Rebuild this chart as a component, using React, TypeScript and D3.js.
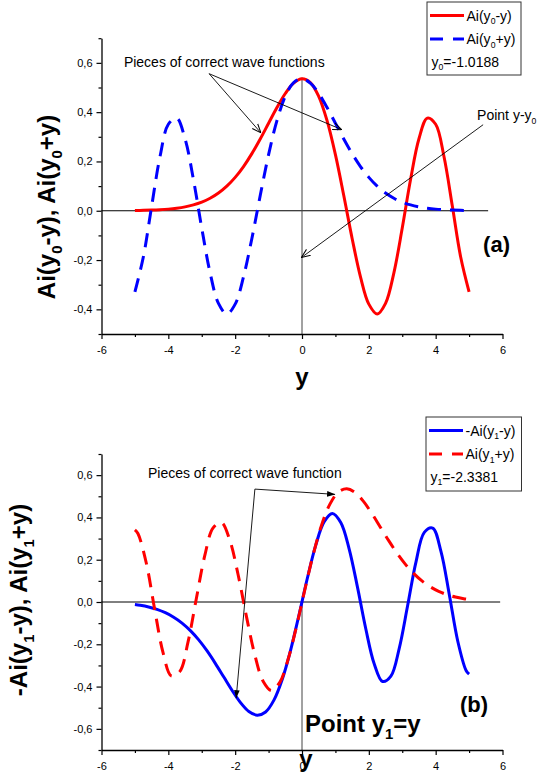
import React, { useEffect, useRef } from "react";
import * as d3 from "d3";

// ---------- data ----------
const xA = [-5, -4.75, -4.5, -4.25, -4, -3.75, -3.5, -3.25, -3, -2.75, -2.5, -2.25, -2, -1.75, -1.5, -1.25, -1, -0.75, -0.5, -0.25, 0, 0.25, 0.5, 0.75, 1, 1.25, 1.5, 1.75, 2, 2.25, 2.5, 2.75, 3, 3.25, 3.5, 3.75, 4, 4.25, 4.5, 4.75, 5];
const redA = [0.001, 0.0016, 0.0026, 0.0042, 0.0066, 0.0103, 0.0157, 0.0237, 0.0349, 0.0505, 0.0718, 0.0996, 0.1353, 0.1793, 0.2317, 0.2912, 0.355, 0.4187, 0.4757, 0.5178, 0.5356, 0.5201, 0.4642, 0.3655, 0.2274, 0.0616, -0.1123, -0.268, -0.3788, -0.4189, -0.3758, -0.2517, -0.0703, 0.1277, 0.2921, 0.3759, 0.3508, 0.2189, 0.0178, -0.1889, -0.3292];
const blueA = [-0.3292, -0.1889, 0.0178, 0.2189, 0.3508, 0.3759, 0.2921, 0.1277, -0.0703, -0.2517, -0.3758, -0.4189, -0.3788, -0.268, -0.1123, 0.0616, 0.2274, 0.3655, 0.4642, 0.5201, 0.5356, 0.5178, 0.4757, 0.4187, 0.355, 0.2912, 0.2317, 0.1793, 0.1353, 0.0996, 0.0718, 0.0505, 0.0349, 0.0237, 0.0157, 0.0103, 0.0066, 0.0042, 0.0026, 0.0016, 0.001];

const xRedB = [-5, -4.91, -4.66, -4.41, -4.16, -3.91, -3.66, -3.41, -3.16, -2.91, -2.66, -2.41, -2.16, -1.91, -1.66, -1.41, -1.16, -0.91, -0.66, -0.41, -0.16, 0.09, 0.34, 0.59, 0.84, 1.09, 1.34, 1.59, 1.84, 2.09, 2.34, 2.59, 2.84, 3.09, 3.34, 3.59, 3.84, 4.09, 4.34, 4.59, 4.84, 5];
const redB = [0.3408, 0.3237, 0.1843, -0.0334, -0.2381, -0.3496, -0.3292, -0.1889, 0.0178, 0.2189, 0.3508, 0.3759, 0.2921, 0.1277, -0.0703, -0.2517, -0.3758, -0.4189, -0.3788, -0.268, -0.1123, 0.0616, 0.2274, 0.3655, 0.4642, 0.5201, 0.5356, 0.5178, 0.4757, 0.4187, 0.355, 0.2912, 0.2317, 0.1793, 0.1353, 0.0996, 0.0718, 0.0505, 0.0349, 0.0237, 0.0157, 0.012];
const xBlueB = [-5, -4.84, -4.59, -4.34, -4.09, -3.84, -3.59, -3.34, -3.09, -2.84, -2.59, -2.34, -2.09, -1.84, -1.59, -1.34, -1.09, -0.84, -0.59, -0.34, -0.09, 0.16, 0.41, 0.66, 0.91, 1.16, 1.41, 1.66, 1.91, 2.16, 2.41, 2.66, 2.91, 3.16, 3.41, 3.66, 3.91, 4.16, 4.41, 4.66, 4.91, 5];
const blueB = [-0.012, -0.0157, -0.0237, -0.0349, -0.0505, -0.0718, -0.0996, -0.1353, -0.1793, -0.2317, -0.2912, -0.355, -0.4187, -0.4757, -0.5178, -0.5356, -0.5201, -0.4642, -0.3655, -0.2274, -0.0616, 0.1123, 0.268, 0.3788, 0.4189, 0.3758, 0.2517, 0.0703, -0.1277, -0.2921, -0.3759, -0.3508, -0.2189, -0.0178, 0.1889, 0.3292, 0.3496, 0.2381, 0.0334, -0.1843, -0.3237, -0.3408];

const xMajorTicks = [-6, -4, -2, 0, 2, 4, 6];
const xMinorTicks = [-5, -3, -1, 1, 3, 5];
const yMajorTicksA = [-0.4, -0.2, 0, 0.2, 0.4, 0.6];
const yMinorTicksA = [-0.5, -0.3, -0.1, 0.1, 0.3, 0.5, 0.7];
const yMajorTicksB = [-0.6, -0.4, -0.2, 0, 0.2, 0.4, 0.6];
const yMinorTicksB = [-0.7, -0.5, -0.3, -0.1, 0.1, 0.3, 0.5, 0.7];

const FONT = "'Liberation Sans', Arial, Helvetica, sans-serif";
const RED = "#ff0000";
const BLUE = "#0000ff";
const DASH = "14,9";

type Seg = string | { sub: string };

function addText(parent: any, x: number, y: number, segs: Seg[], size: number, opts: any = {}) {
  const t = parent
    .append("text")
    .attr("x", x)
    .attr("y", y)
    .attr("font-family", FONT)
    .attr("font-size", size)
    .attr("fill", "#000");
  if (opts.bold) t.attr("font-weight", "bold");
  if (opts.anchor) t.attr("text-anchor", opts.anchor);
  if (opts.transform) t.attr("transform", opts.transform);
  const subSize = size * 0.62;
  const drop = size * 0.28;
  let shifted = false;
  segs.forEach((s) => {
    const isSub = typeof s !== "string";
    const ts = t.append("tspan").text(isSub ? (s as any).sub : (s as string));
    if (isSub) {
      ts.attr("font-size", subSize).attr("dy", drop);
      shifted = true;
    } else if (shifted) {
      ts.attr("dy", -drop);
      shifted = false;
    }
  });
  return t;
}

function fmtY(d: any) {
  return (+d).toFixed(1).replace(".", ",");
}

function drawAxes(svg: any, x: any, y: any, yMajor: number[], yMinor: number[]) {
  const bottom = y.range()[0];
  const left = x.range()[0];
  const style = (g: any) => {
    g.attr("font-family", FONT).attr("font-size", 11);
    g.selectAll("path").attr("stroke-width", 1.3);
    g.selectAll("line").attr("stroke-width", 1.2);
  };
  svg
    .append("g")
    .attr("transform", `translate(0,${bottom})`)
    .call(d3.axisBottom(x).tickValues(xMajorTicks).tickSize(5).tickSizeOuter(0).tickPadding(7).tickFormat((d: any) => String(d)))
    .call(style);
  svg
    .append("g")
    .attr("transform", `translate(0,${bottom})`)
    .call(d3.axisBottom(x).tickValues(xMinorTicks).tickSize(3).tickSizeOuter(0).tickFormat(() => ""))
    .call(style)
    .call((g: any) => g.select(".domain").remove());
  svg
    .append("g")
    .attr("transform", `translate(${left},0)`)
    .call(d3.axisLeft(y).tickValues(yMajor).tickSize(5).tickSizeOuter(0).tickPadding(4).tickFormat(fmtY))
    .call(style);
  svg
    .append("g")
    .attr("transform", `translate(${left},0)`)
    .call(d3.axisLeft(y).tickValues(yMinor).tickSize(3).tickSizeOuter(0).tickFormat(() => ""))
    .call(style)
    .call((g: any) => g.select(".domain").remove());
}

function drawSeries(svg: any, x: any, y: any, xs: number[], ys: number[], color: string, dash: string | null) {
  const line = d3
    .line<number>()
    .x((_, i) => x(xs[i]))
    .y((d) => y(d))
    .curve(d3.curveCatmullRom.alpha(0.5));
  svg
    .append("path")
    .attr("d", line(ys))
    .attr("fill", "none")
    .attr("stroke", color)
    .attr("stroke-width", 3)
    .attr("stroke-dasharray", dash);
}

function arrow(svg: any, x1: number, y1: number, x2: number, y2: number, marker: string) {
  svg
    .append("line")
    .attr("x1", x1)
    .attr("y1", y1)
    .attr("x2", x2)
    .attr("y2", y2)
    .attr("stroke", "#000")
    .attr("stroke-width", 0.9)
    .attr("marker-end", `url(#${marker})`);
}

function legend(svg: any, bx: number, by: number, w: number, h: number, rows: any[], note: Seg[]) {
  svg
    .append("rect")
    .attr("x", bx)
    .attr("y", by)
    .attr("width", w)
    .attr("height", h)
    .attr("fill", "#fff")
    .attr("stroke", "#333")
    .attr("stroke-width", 1);
  rows.forEach((r, i) => {
    const cy = by + 13.5 + i * 23.5;
    svg
      .append("line")
      .attr("x1", bx + 3)
      .attr("x2", bx + 37)
      .attr("y1", cy)
      .attr("y2", cy)
      .attr("stroke", r.color)
      .attr("stroke-width", 3)
      .attr("stroke-dasharray", r.dash);
    addText(svg, bx + 39.5, cy + 5, r.segs, 14);
  });
  addText(svg, bx + 4.5, by + 64.5, note, 14);
}

function Chart() {
  const ref = useRef<SVGSVGElement | null>(null);
  useEffect(() => {
    const svg = d3.select(ref.current);
    svg.selectAll("*").remove();
    const defs = svg.append("defs");
    defs
      .append("marker")
      .attr("id", "open")
      .attr("viewBox", "0 0 10 10")
      .attr("refX", 10)
      .attr("refY", 5)
      .attr("markerWidth", 9)
      .attr("markerHeight", 9)
      .attr("markerUnits", "userSpaceOnUse")
      .attr("orient", "auto")
      .append("path")
      .attr("d", "M0,1 L10,5 L0,9")
      .attr("fill", "none")
      .attr("stroke", "#000")
      .attr("stroke-width", 1.1);
    defs
      .append("marker")
      .attr("id", "filled")
      .attr("viewBox", "0 0 10 10")
      .attr("refX", 10)
      .attr("refY", 5)
      .attr("markerWidth", 8)
      .attr("markerHeight", 8)
      .attr("markerUnits", "userSpaceOnUse")
      .attr("orient", "auto")
      .append("path")
      .attr("d", "M0,1.5 L10,5 L0,8.5 Z")
      .attr("fill", "#000");

    // ---------- panel (a) ----------
    const x = d3.scaleLinear().domain([-6, 6]).range([101.5, 502.5]);
    const yA = d3.scaleLinear().domain([-0.5, 0.7]).range([334, 38.2]);
    const gA = svg.append("g");
    gA.append("line").attr("x1", x(-6)).attr("x2", x(5.57)).attr("y1", yA(0)).attr("y2", yA(0)).attr("stroke", "#000").attr("stroke-width", 1);
    gA.append("line").attr("x1", x(0)).attr("x2", x(0)).attr("y1", yA(0.54)).attr("y2", yA(-0.5)).attr("stroke", "#444").attr("stroke-width", 1);
    drawAxes(gA, x, yA, yMajorTicksA, yMinorTicksA);
    drawSeries(gA, x, yA, xA, redA, RED, null);
    drawSeries(gA, x, yA, xA, blueA, BLUE, DASH);
    addText(gA, x(-5.33), yA(0.584), ["Pieces of correct wave functions"], 14);
    arrow(gA, x(-2.78), yA(0.556), x(-1.23), yA(0.316), "open");
    arrow(gA, x(-2.78), yA(0.556), x(1.19), yA(0.329), "open");
    addText(gA, x(5.24), yA(0.369), ["Point y-y", { sub: "0" }], 14);
    arrow(gA, x(5.42), yA(0.349), x(-0.02), yA(-0.19), "open");
    addText(gA, x(5.42), yA(-0.166), ["(a)"], 22, { bold: true });
    addText(gA, 55, 207, ["Ai(y", { sub: "0" }, "-y), Ai(y", { sub: "0" }, "+y)"], 24, {
      bold: true,
      anchor: "middle",
      transform: "rotate(-90,55,207)",
    });
    addText(gA, x(0), 385, ["y"], 24, { bold: true, anchor: "middle" });
    legend(gA, 427, 2, 94, 73,
      [
        { color: RED, dash: null, segs: ["Ai(y", { sub: "0" }, "-y)"] },
        { color: BLUE, dash: "13,10", segs: ["Ai(y", { sub: "0" }, "+y)"] },
      ],
      ["y", { sub: "0" }, "=-1.0188"]
    );

    // ---------- panel (b) ----------
    const yB = d3.scaleLinear().domain([-0.7, 0.7]).range([750, 454]);
    const gB = svg.append("g");
    gB.append("line").attr("x1", x(-6)).attr("x2", x(5.93)).attr("y1", yB(0)).attr("y2", yB(0)).attr("stroke", "#000").attr("stroke-width", 1);
    gB.append("line").attr("x1", x(0)).attr("x2", x(0)).attr("y1", yB(0)).attr("y2", yB(-0.7)).attr("stroke", "#444").attr("stroke-width", 1);
    drawAxes(gB, x, yB, yMajorTicksB, yMinorTicksB);
    drawSeries(gB, x, yB, xBlueB, blueB, BLUE, null);
    drawSeries(gB, x, yB, xRedB, redB, RED, DASH);
    addText(gB, x(-4.61), yB(0.586), ["Pieces of correct wave function"], 14);
    arrow(gB, x(-1.41), yB(0.534), x(0.99), yB(0.509), "filled");
    arrow(gB, x(-1.41), yB(0.534), x(-1.97), yB(-0.455), "filled");
    addText(gB, x(4.73), yB(-0.52), ["(b)"], 22, { bold: true });
    addText(gB, x(0.09), yB(-0.615), ["Point y", { sub: "1" }, "=y"], 24, { bold: true });
    addText(gB, 27, 600, ["-Ai(y", { sub: "1" }, "-y), Ai(y", { sub: "1" }, "+y)"], 24, {
      bold: true,
      anchor: "middle",
      transform: "rotate(-90,27,600)",
    });
    addText(gB, x(0.12), 767, ["y"], 24, { bold: true, anchor: "middle" });
    legend(gB, 426, 417, 95.5, 74,
      [
        { color: BLUE, dash: null, segs: ["-Ai(y", { sub: "1" }, "-y)"] },
        { color: RED, dash: "13,10", segs: ["Ai(y", { sub: "1" }, "+y)"] },
      ],
      ["y", { sub: "1" }, "=-2.3381"]
    );
  }, []);
  return (
    <svg
      ref={ref}
      width={538}
      height={781}
      style={{ position: "absolute", left: 0, top: 0, background: "#fff" }}
    />
  );
}

export default function App() {
  return <Chart />;
}
